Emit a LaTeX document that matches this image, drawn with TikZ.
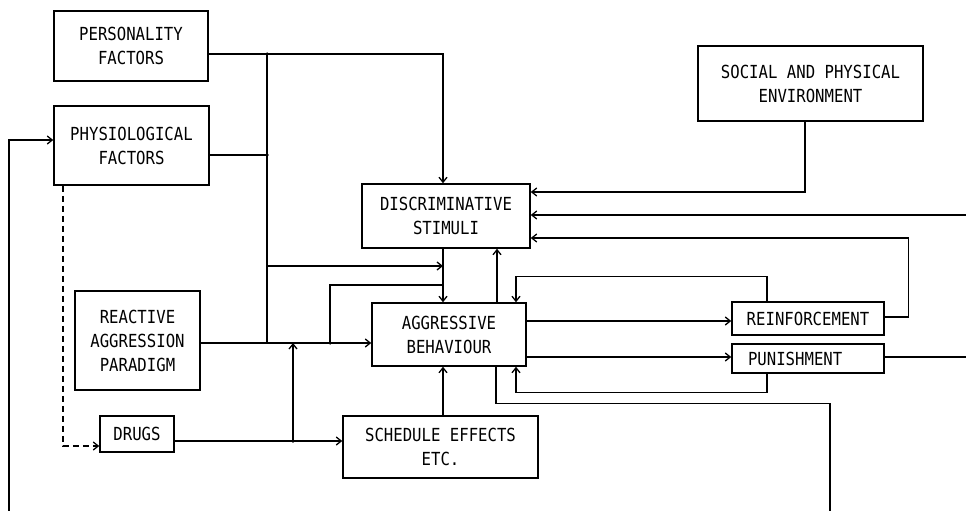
\documentclass[tikz,border=0pt]{standalone}
\usepackage{fontspec}
\setmainfont[FakeStretch=0.87]{DejaVu Sans Mono}
\usetikzlibrary{arrows.meta}
\tikzset{
  box/.style={draw, line width=1.5pt, inner sep=0pt, align=center, font=\fontsize{18}{24}\selectfont},
  conn/.style={line width=1.3pt},
  arr/.style={conn, -{Straight Barb[length=5pt,width=8pt]}},
  dot/.style={circle, fill, inner sep=0pt, minimum size=3.5pt}
}
\begin{document}
\begin{tikzpicture}[x=1pt,y=-1pt]
\useasboundingbox[fill=white] (0,0) rectangle (966,511);
% boxes
\node[box, minimum width=154pt, minimum height=70pt] (pers) at (131,46) {PERSONALITY\\FACTORS};
\node[box, minimum width=155pt, minimum height=79pt] (phys) at (131.5,145.5) {PHYSIOLOGICAL\\FACTORS};
\node[box, minimum width=125pt, minimum height=99pt] (react) at (137.5,340.5) {REACTIVE\\AGGRESSION\\PARADIGM};
\node[box, minimum width=74pt, minimum height=36pt] (drugs) at (137,434) {DRUGS};
\node[box, minimum width=195pt, minimum height=62pt] (sched) at (440.5,447) {SCHEDULE EFFECTS\\ETC.};
\node[box, minimum width=168pt, minimum height=64pt] (ds) at (446,216) {DISCRIMINATIVE\\STIMULI};
\node[box, minimum width=154pt, minimum height=63pt] (ab) at (449,334.5) {AGGRESSIVE\\BEHAVIOUR};
\node[box, minimum width=225pt, minimum height=75pt] (soc) at (810.5,83.5) {SOCIAL AND PHYSICAL\\ENVIRONMENT};
\node[box, minimum width=152pt, minimum height=33pt] (reinf) at (808,318.5) {REINFORCEMENT};
\node[box, inner xsep=16pt, text width=120pt, align=left, minimum height=29pt] (pun) at (808,358.5) {PUNISHMENT};
% junction coordinates
\coordinate (jtop) at (267,54);
\coordinate (jph) at (267,155);
\coordinate (jbot) at (267,343);
\coordinate (jmid) at (267,266);
\coordinate (vmid) at (443,266);
\coordinate (jloop) at (330,343);
\coordinate (jdrug) at (293,441);
\coordinate (jup) at (293,343);
\coordinate (cut1) at (9,511);
\coordinate (cut2) at (830,511);
\coordinate (cut3) at (966,215);
\coordinate (cut4) at (966,357);
% connectors
\draw[arr] ([yshift=-8pt]pers.east) -| ([xshift=-3pt]ds.north);
\draw[conn] ([yshift=-9.5pt]phys.east) -- (jph);
\draw[conn] (jtop) -- (jbot);
\draw[arr] ([yshift=-2.5pt]react.east) -- ([yshift=-8.5pt]ab.west);
\draw[arr] (jmid) -- (vmid);
\draw[arr] ([xshift=-3pt]ds.south) -- ([xshift=-6pt]ab.north);
\draw[conn] (jloop) |- (443,285);
\draw[arr] ([yshift=-7pt]drugs.east) -- ([yshift=6pt]sched.west);
\draw[arr] (jdrug) -- (jup);
\draw[arr] ([xshift=2.5pt]sched.north) -- ([xshift=-6pt]ab.south);
\draw[arr] ([xshift=48pt]ab.north) -- ([xshift=51pt]ds.south);
\draw[arr] ([yshift=13.5pt]ab.east) -- ([yshift=-2.5pt]reinf.west);
\draw[arr] ([yshift=-22.5pt]ab.east) -- ([yshift=1.5pt]pun.west);
\draw[arr] ([xshift=-41pt]reinf.north) -- ++(0,-25) -| ([xshift=67pt]ab.north);
\draw[arr] ([xshift=-41pt]pun.south) -- ++(0,19) -| ([xshift=67pt]ab.south);
\draw[conn] ([xshift=47pt]ab.south) -- ++(0,37) -| (cut2);
\draw[arr] (cut1) |- ([yshift=5.5pt]phys.west);
\draw[arr] ([yshift=1.5pt]reinf.east) -- ++(24,0) |- ([yshift=-22pt]ds.east);
\draw[arr] ([xshift=-5.5pt]soc.south) |- ([yshift=24pt]ds.east);
\draw[arr] (cut3) -- ([yshift=1pt]ds.east);
\draw[conn] ([yshift=1.5pt]pun.east) -- (cut4);
\draw[arr, dashed, dash pattern=on 6pt off 4pt] ([xshift=-68.5pt]phys.south) |- ([yshift=-12pt]drugs.west);
% junction dots
\foreach \p in {jtop,jph,jdrug,jloop} \node[dot] at (\p) {};
\end{tikzpicture}
\end{document}
